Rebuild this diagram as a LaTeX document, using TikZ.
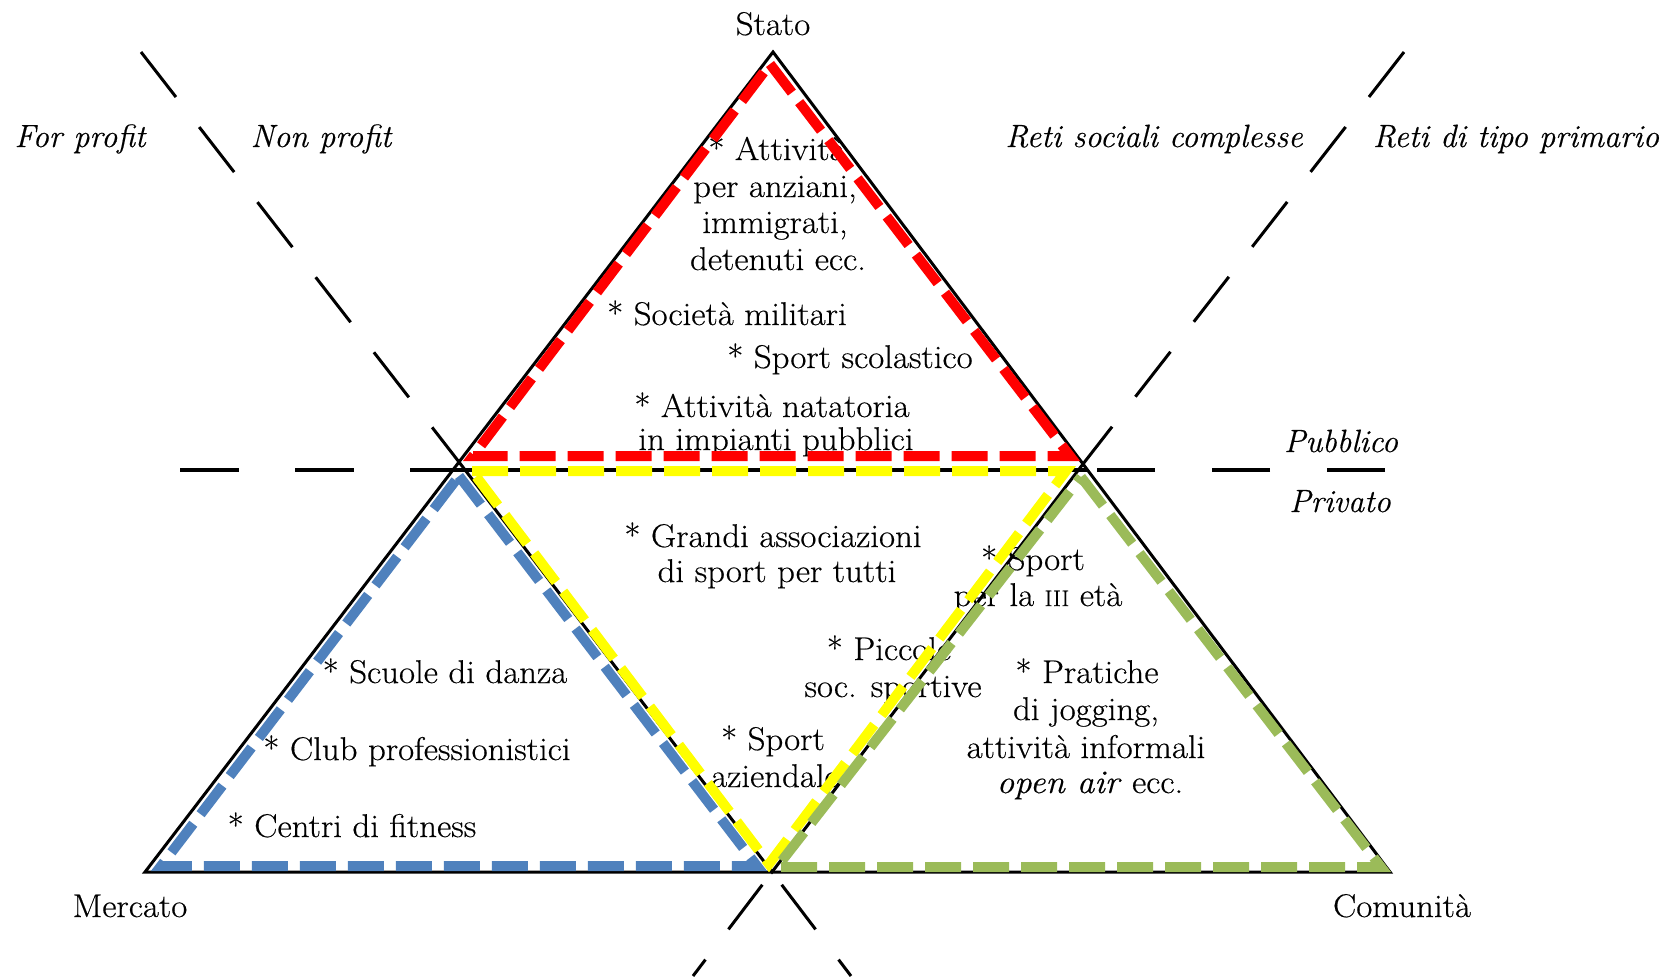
\documentclass[tikz,border=0pt]{standalone}
\usepackage{fontspec}
\setmainfont{Latin Modern Roman}[FakeStretch=1.06, FakeBold=0.4]
\newfontfamily\plainlm{Latin Modern Roman}[FakeBold=0.4]
\usetikzlibrary{calc}
\definecolor{cRed}{HTML}{FF0000}
\definecolor{cYellow}{HTML}{FFFF00}
\definecolor{cBlue}{HTML}{4F81BD}
\definecolor{cGreen}{HTML}{9BBB59}
\newcommand{\romsc}[1]{{\fontsize{22.5}{36}\selectfont #1}}
\begin{document}
\begin{tikzpicture}[x=1bp,y=-1bp,
  lbl/.style={inner sep=0pt, anchor=base, font=\fontsize{33}{36}\selectfont},
  ilbl/.style={lbl, font=\plainlm\fontsize{32.3}{36}\selectfont\itshape},
  solidline/.style={line width=3bp, black},
  diagdash/.style={line width=3bp, black, dash pattern=on 57bp off 38bp},
  lowdash/.style={line width=3bp, black, dash pattern=on 56bp off 38bp, dash phase=78bp},
  hdashL/.style={line width=4bp, black, dash pattern=on 59bp off 56bp},
  hdashR/.style={line width=4bp, black, dash pattern=on 58bp off 57bp},
  cdash/.style={line width=10bp, dash pattern=on 36bp off 12bp, line join=miter},
]
\useasboundingbox (0,0) rectangle (1664,976);
\fill[white] (0,0) rectangle (1664,976);

% key points
\coordinate (A) at (773,52);
\coordinate (M) at (145,872);
\coordinate (C) at (1390,872);
\coordinate (B) at (772,872);
\coordinate (L) at (459,462);
\coordinate (R) at (1083,464);
\coordinate (T1) at (141,52);
\coordinate (T2) at (1404,52);
\coordinate (D1) at (851,976);
\coordinate (D2) at (693,976);
\coordinate (H1) at (180,470);
\coordinate (H2) at (455,470);
\coordinate (H3) at (1088,470);
\coordinate (H4) at (1385,470);

% labels outside
\node[lbl] (stato) at (773,35) {Stato};
\node[lbl] (mercato) at (130,917) {Mercato};
\node[lbl] (comunita) at (1402,917) {Comunità};
\node[ilbl] (forp) at (80,147) {For profit};
\node[ilbl] (nonp) at (321,147) {Non profit};
\node[ilbl] (retis) at (1154,147) {Reti sociali complesse};
\node[ilbl] (retip) at (1516,147) {Reti di tipo primario};
\node[ilbl] (pubb) at (1341,452) {Pubblico};
\node[ilbl] (priv) at (1340,512) {Privato};

% top triangle texts
\node[lbl] (s1) at (777,160) {* Attività};
\node[lbl] (s2) at (775,197) {per anziani,};
\node[lbl] (s3) at (775,233) {immigrati,};
\node[lbl] (s4) at (778,270) {detenuti ecc.};
\node[lbl] (s5) at (727,325) {* Società militari};
\node[lbl] (s6) at (850,368) {* Sport scolastico};
\node[lbl] (s7) at (772,417) {* Attività natatoria};
\node[lbl] (s8) at (776,450) {in impianti pubblici};

% middle texts
\node[lbl] (g1) at (773,547) {* Grandi associazioni};
\node[lbl] (g2) at (777,582) {di sport per tutti};
\node[lbl] (p1) at (889,660) {* Piccole};
\node[lbl] (p2) at (893,697) {soc. sportive};
\node[lbl] (a1) at (773,750) {* Sport};
\node[lbl] (a2) at (775,787) {aziendale};

% right triangle texts
\node[lbl] (e1) at (1033,570) {* Sport};
\node[lbl] (e2) at (1038,606) {per la \romsc{III} età};
\node[lbl] (j1) at (1087,683) {* Pratiche};
\node[lbl] (j2) at (1086,720) {di jogging,};
\node[lbl] (j3) at (1086,758) {attività informali};
\node[lbl] (j4) at (1090,793) {\textit{open air} ecc.};

% left triangle texts
\node[lbl] (m1) at (445,683) {* Scuole di danza};
\node[lbl] (m2) at (417,760) {* Club professionistici};
\node[lbl] (m3) at (352,837) {* Centri di fitness};

% black structure
\draw[solidline, line join=miter] (A) -- (M) -- (C) -- cycle;
\draw[solidline] (L) -- (B) -- (R);
\draw[line width=4bp] (H2) -- (H3);
\draw[hdashL] (H1) -- (H2);
\draw[hdashR] (H4) -- (H3);
\draw[diagdash] (T1) -- (L);
\draw[diagdash] (T2) -- (R);
\draw[lowdash] (B) -- (D1);
\draw[lowdash] (B) -- (D2);

% coloured dashed triangles
\draw[cdash, cRed] (770,64) -- (1070,456) -- (473,456) -- cycle;
\draw[cdash, cBlue] (459,476) -- (757,866) -- (161,866) -- cycle;
\draw[cdash, cYellow] (472,471) -- (1066,471) -- (769,864) -- cycle;
\draw[cdash, cGreen] (1081,477) -- (1381,867) -- (777,867) -- cycle;
\end{tikzpicture}
\end{document}
